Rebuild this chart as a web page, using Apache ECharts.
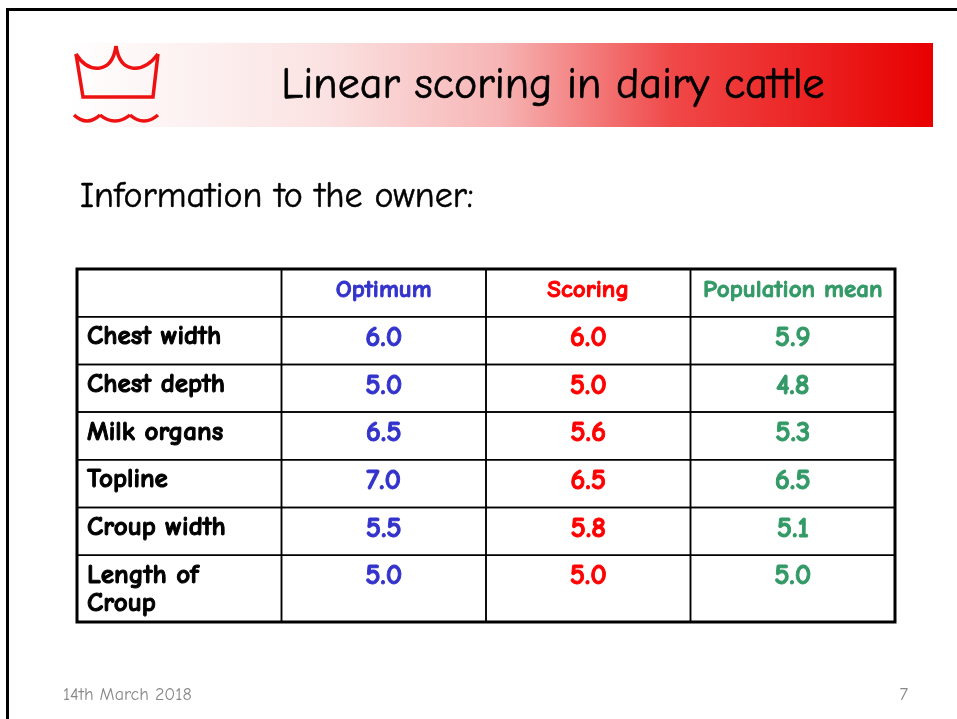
<!DOCTYPE html>
<html>
<head>
<meta charset="utf-8">
<script src="https://cdn.jsdelivr.net/npm/echarts@6/dist/echarts.min.js"></script>
<style>
html, body { margin: 0; padding: 0; background: #fff; }
#main { width: 957px; height: 719px; }
</style>
</head>
<body>
<div id="main"></div>
<script>
// table content
var traits = ['Chest width', 'Chest depth', 'Milk organs', 'Topline', 'Croup width', 'Length of\nCroup'];
var columns = ['Optimum', 'Scoring', 'Population mean'];
var optimum = [6.0, 5.0, 6.5, 7.0, 5.5, 5.0];
var scoring = [6.0, 5.0, 5.6, 6.5, 5.8, 5.0];
var popMean = [5.9, 4.8, 5.3, 6.5, 5.1, 5.0];

var colColors = ['#3333cc', '#ff0000', '#339966'];
var rowUnits = [1, 1, 1, 1, 1, 1, 1.4];   // last row holds two lines
var rowStart = [];
var acc = 0;
for (var r = 0; r < rowUnits.length; r++) { rowStart.push(acc); acc += rowUnits[r]; }
var rowTotal = acc;

var FONT = '"Comic Sans MS", "Comic Neue", "DejaVu Sans", sans-serif';
var LOGO = '#ee1111';

// one entry per cell
var cells = [];
cells.push({ col: 0, row: 0, text: '', color: '#000' });
for (var c = 0; c < columns.length; c++) {
    cells.push({ col: c + 1, row: 0, text: columns[c], color: colColors[c], head: true });
}
var seriesVals = [optimum, scoring, popMean];
for (var i = 0; i < traits.length; i++) {
    cells.push({ col: 0, row: i + 1, text: traits[i], color: '#000', label: true });
    for (var k = 0; k < seriesVals.length; k++) {
        cells.push({ col: k + 1, row: i + 1, text: seriesVals[k][i].toFixed(1), color: colColors[k] });
    }
}

function renderCell(params, api)
{
    var cell = cells[params.dataIndex];
    var y0 = rowStart[cell.row];
    var y1 = y0 + rowUnits[cell.row];
    var p0 = api.coord([cell.col, y0]);
    var p1 = api.coord([cell.col + 1, y1]);
    var w = p1[0] - p0[0];
    var h = p1[1] - p0[1];
    var txt;
    if (cell.label) {
        txt = {
            type: 'text',
            style: {
                x: p0[0] + 10, y: p0[1] + 6, text: cell.text,
                fill: cell.color, stroke: cell.color, lineWidth: 1,
                font: 'bold 27px ' + FONT,
                align: 'left', verticalAlign: 'top', lineHeight: 28
            }
        };
    } else {
        txt = {
            type: 'text',
            style: {
                x: p0[0] + w / 2, y: p0[1] + 21, text: cell.text,
                fill: cell.color, stroke: cell.color, lineWidth: 0.9,
                font: 'bold ' + (cell.head ? 25 : 29) + 'px ' + FONT,
                align: 'center', verticalAlign: 'middle'
            }
        };
    }
    return {
        type: 'group',
        children: [
            { type: 'rect', shape: { x: p0[0], y: p0[1], width: w, height: h },
              style: { fill: 'none', stroke: '#000', lineWidth: 1.5 } },
            txt
        ]
    };
}

function curve(x1, y1, cx, cy, x2, y2)
{
    return { type: 'bezierCurve', shape: { x1: x1, y1: y1, cpx1: cx, cpy1: cy, x2: x2, y2: y2 },
             style: { fill: 'none', stroke: LOGO, lineWidth: 3.5 } };
}

var chart = echarts.init(document.getElementById('main'));

var option = {
    backgroundColor: '#ffffff',
    animation: false,
    grid: {
        left: 77, right: 62, top: 269, bottom: 97,
        show: true, borderColor: '#000', borderWidth: 3, backgroundColor: 'transparent'
    },
    xAxis: {
        type: 'value', min: 0, max: 4,
        axisLine: { show: false }, axisTick: { show: false },
        axisLabel: { show: false }, splitLine: { show: false }
    },
    yAxis: {
        type: 'value', min: 0, max: rowTotal, inverse: true,
        axisLine: { show: false }, axisTick: { show: false },
        axisLabel: { show: false }, splitLine: { show: false }
    },
    graphic: [
        // slide frame
        { type: 'line', shape: { x1: 6, y1: 9.5, x2: 957, y2: 9.5 }, style: { stroke: '#000', lineWidth: 3 } },
        { type: 'line', shape: { x1: 7.5, y1: 8, x2: 7.5, y2: 719 }, style: { stroke: '#000', lineWidth: 3 } },
        // title band
        {
            type: 'rect', shape: { x: 65, y: 43, width: 868, height: 84 },
            style: {
                fill: new echarts.graphic.LinearGradient(0, 0, 1, 0, [
                    { offset: 0, color: '#ffffff' },
                    { offset: 0.3, color: '#fbe2e2' },
                    { offset: 0.5, color: '#f7b5b5' },
                    { offset: 0.7, color: '#f04848' },
                    { offset: 1, color: '#e80000' }
                ])
            }
        },
        // crown logo
        curve(76, 54, 86, 70, 100, 68),
        curve(100, 68, 113, 66, 116, 46),
        curve(116, 46, 119, 66, 132, 68),
        curve(132, 68, 146, 70, 158, 54),
        {
            type: 'polyline', shape: { points: [[158, 54], [153, 97], [83, 97], [76, 54]] },
            style: { fill: 'none', stroke: LOGO, lineWidth: 3.5 }
        },
        curve(74, 115, 87, 127, 100, 115),
        curve(100, 115, 115, 127, 130, 115),
        curve(130, 115, 144, 127, 158, 115),
        {
            type: 'text',
            style: { x: 553, y: 86, text: 'Linear scoring in dairy cattle', fill: '#000',
                     stroke: '#000', lineWidth: 0.7,
                     font: '44px ' + FONT, align: 'center', verticalAlign: 'middle' }
        },
        {
            type: 'text',
            style: { x: 80, y: 197, text: 'Information to the owner:', fill: '#000',
                     stroke: '#000', lineWidth: 0.5,
                     font: '36px ' + FONT, align: 'left', verticalAlign: 'middle' }
        },
        {
            type: 'text',
            style: { x: 63, y: 695, text: '14th March 2018', fill: '#888888',
                     font: '18px ' + FONT, align: 'left', verticalAlign: 'middle' }
        },
        {
            type: 'text',
            style: { x: 908, y: 695, text: '7', fill: '#888888',
                     font: '18px ' + FONT, align: 'right', verticalAlign: 'middle' }
        }
    ],
    series: [{
        type: 'custom',
        renderItem: renderCell,
        coordinateSystem: 'cartesian2d',
        data: cells.map(function (cl) { return [cl.col, cl.row]; }),
        silent: true
    }]
};

chart.setOption(option);
</script>
</body>
</html>
